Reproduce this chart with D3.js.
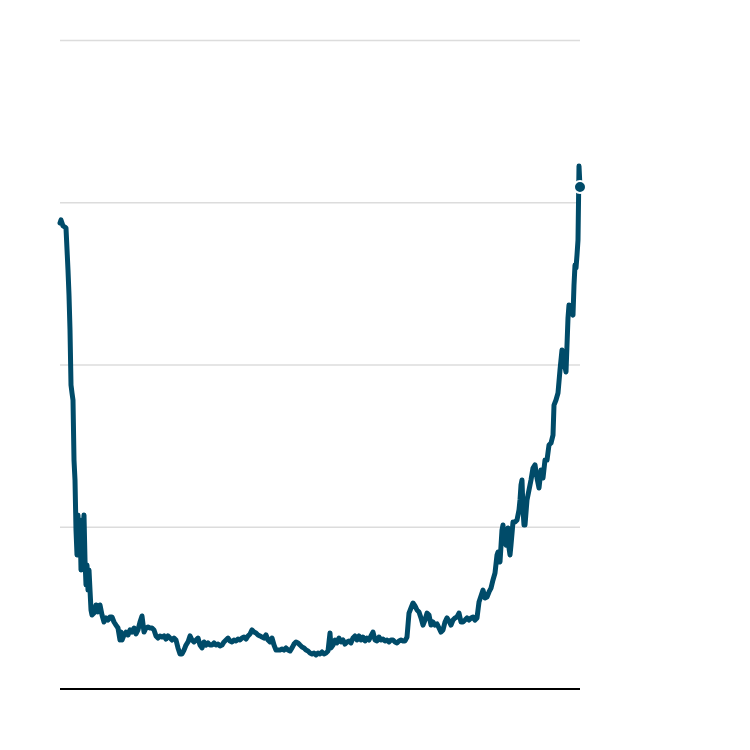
<!DOCTYPE html>
<html>
<head>
<meta charset="utf-8">
<script src="https://cdn.jsdelivr.net/npm/d3@7"></script>
<style>
	body { margin: 0; background: #fff; }
	svg { display: block; }
</style>
</head>
<body>
<svg width="750" height="750"></svg>
<script>
// weeks since start of series
var weeks = [0, 1, 3, 5, 6, 8, 9, 10, 11, 12, 13, 14, 15, 16, 17, 18, 19, 20, 21, 22, 24, 25, 26, 27, 28, 29, 30, 31, 32, 34, 36, 38, 40, 42, 44, 46, 48, 50, 52, 54, 56, 58, 60, 61, 62, 64, 66, 68, 70, 72, 74, 76, 78, 80, 82, 84, 86, 88, 90, 92, 94, 96, 98, 100, 102, 104, 106, 108, 110, 112, 114, 116, 118, 120, 122, 124, 126, 128, 130, 132, 134, 136, 138, 140, 142, 144, 146, 148, 150, 152, 154, 156, 158, 160, 162, 164, 166, 168, 170, 172, 174, 176, 178, 180, 182, 184, 186, 188, 190, 192, 194, 196, 198, 200, 202, 204, 206, 208, 210, 212, 214, 216, 218, 220, 222, 224, 226, 228, 230, 232, 234, 236, 238, 240, 242, 244, 246, 248, 250, 252, 254, 256, 258, 260, 262, 264, 266, 268, 270, 271, 273, 275, 277, 279, 281, 283, 285, 287, 289, 291, 293, 295, 297, 299, 301, 303, 305, 307, 309, 311, 313, 315, 317, 319, 321, 323, 325, 327, 329, 331, 333, 335, 337, 339, 341, 343, 345, 347, 349, 351, 353, 355, 357, 359, 361, 363, 365, 367, 369, 371, 373, 375, 377, 379, 381, 383, 385, 387, 389, 391, 393, 395, 397, 399, 401, 403, 405, 407, 409, 411, 413, 415, 417, 419, 421, 423, 425, 427, 429, 431, 433, 435, 437, 438, 440, 442, 443, 444, 446, 448, 449, 450, 451, 453, 455, 457, 459, 460, 461, 462, 463, 464, 465, 467, 469, 471, 473, 475, 477, 479, 481, 483, 485, 487, 489, 491, 493, 494, 496, 498, 500, 502, 504, 506, 507, 508, 509, 511, 513, 514, 515, 516, 517, 518, 519, 520];

var values = [287.2, 289.1, 285.4, 284.7, 284.1, 258.2, 242.8, 221.3, 187.4, 182.4, 178.1, 141.1, 128.8, 98.0, 82.6, 107.2, 82.6, 104.2, 73.3, 91.8, 107.2, 79.5, 64.1, 76.4, 61.0, 73.3, 61.0, 48.7, 45.6, 46.8, 51.8, 47.5, 51.8, 45.6, 41.3, 43.8, 42.5, 44.4, 44.4, 41.3, 39.4, 37.6, 30.2, 35.1, 30.2, 33.3, 35.1, 33.3, 36.4, 35.1, 37.6, 33.9, 36.4, 41.3, 45.0, 35.1, 37.6, 38.2, 37.6, 37.6, 36.4, 32.7, 31.4, 32.7, 32.0, 32.7, 30.8, 32.7, 31.4, 30.2, 31.4, 30.2, 25.3, 21.6, 21.6, 24.0, 27.1, 29.0, 32.7, 30.2, 29.0, 30.2, 31.4, 27.1, 25.3, 29.0, 27.1, 28.4, 27.1, 27.1, 28.4, 27.1, 27.7, 26.5, 27.1, 29.0, 30.2, 31.4, 29.6, 29.0, 30.2, 29.6, 30.8, 30.2, 31.4, 32.0, 30.8, 32.7, 33.9, 36.4, 35.1, 34.5, 33.3, 32.7, 32.0, 31.4, 33.3, 30.2, 29.0, 31.4, 27.1, 24.0, 24.0, 24.0, 24.7, 24.0, 25.3, 24.0, 23.4, 25.3, 27.7, 29.0, 28.4, 27.1, 25.9, 25.3, 24.0, 23.4, 22.2, 21.6, 22.2, 21.0, 22.2, 21.6, 22.8, 21.6, 22.2, 23.4, 34.5, 25.3, 27.1, 30.2, 28.4, 31.4, 29.0, 30.2, 27.7, 29.0, 29.6, 28.4, 31.4, 32.7, 30.2, 32.7, 30.2, 32.0, 29.6, 31.4, 30.2, 32.7, 35.1, 30.2, 29.6, 32.0, 30.2, 30.8, 29.6, 30.2, 29.0, 30.2, 30.2, 29.0, 28.4, 29.6, 30.2, 29.6, 29.6, 32.0, 46.8, 49.9, 53.0, 51.2, 48.7, 47.5, 43.8, 39.4, 42.5, 46.8, 45.6, 39.4, 41.3, 39.4, 40.1, 37.6, 35.1, 36.4, 41.3, 43.8, 41.9, 39.4, 42.5, 43.8, 44.4, 46.8, 41.3, 41.3, 42.5, 43.8, 42.5, 43.8, 44.4, 42.5, 43.8, 53.6, 57.3, 61.0, 56.1, 56.7, 59.8, 62.2, 67.2, 71.5, 82.6, 84.4, 78.3, 98.0, 101.1, 91.8, 88.7, 99.2, 86.9, 82.6, 88.7, 102.9, 102.9, 104.2, 110.3, 116.5, 125.7, 128.8, 110.3, 101.1, 101.1, 116.5, 122.6, 128.8, 136.2, 138.1, 130.0, 123.9, 135.0, 130.0, 141.1, 141.1, 150.4, 151.6, 156.5, 175.0, 178.1, 182.4, 196.6, 208.9, 201.5, 195.4, 212.0, 228.7, 236.7, 232.3, 230.5, 249.0, 261.3, 259.5, 267.5, 276.7, 322.3, 309.4];

var gridTicks = [100, 200, 300, 400];

var data = weeks.map(function(w, i) { return {week: w, value: values[i]}; });

var svg = d3.select("svg"),
	margin = {top: 40, right: 170, bottom: 61, left: 60},
	width = 750 - margin.left - margin.right,
	height = 750 - margin.top - margin.bottom,
	g = svg.append("g").attr("transform", "translate(" + margin.left + "," + margin.top + ")");

var x = d3.scaleLinear()
	.domain([0, 520])
	.range([0, width]);

var y = d3.scaleLinear()
	.domain([0, 400])
	.range([height, 0]);

// gridlines
g.append("g")
	.call(d3.axisLeft(y).tickValues(gridTicks).tickSize(-width).tickFormat(""))
	.call(function(a) { a.select(".domain").remove(); })
	.selectAll(".tick line")
	.attr("stroke", "#dcdcdc")
	.attr("stroke-width", 1.5);

// baseline
g.append("line")
	.attr("x1", 0)
	.attr("x2", width)
	.attr("y1", y(0))
	.attr("y2", y(0))
	.attr("stroke", "#000")
	.attr("stroke-width", 2);

var line = d3.line()
	.x(function(d) { return x(d.week); })
	.y(function(d) { return y(d.value); });

g.append("path")
	.datum(data)
	.attr("fill", "none")
	.attr("stroke", "#004b69")
	.attr("stroke-width", 5)
	.attr("stroke-linejoin", "round")
	.attr("stroke-linecap", "round")
	.attr("d", line);

var last = data[data.length - 1];
g.append("circle")
	.attr("cx", x(last.week))
	.attr("cy", y(last.value))
	.attr("r", 6)
	.attr("fill", "#004b69")
	.attr("stroke", "#fff")
	.attr("stroke-width", 2);
</script>
</body>
</html>
